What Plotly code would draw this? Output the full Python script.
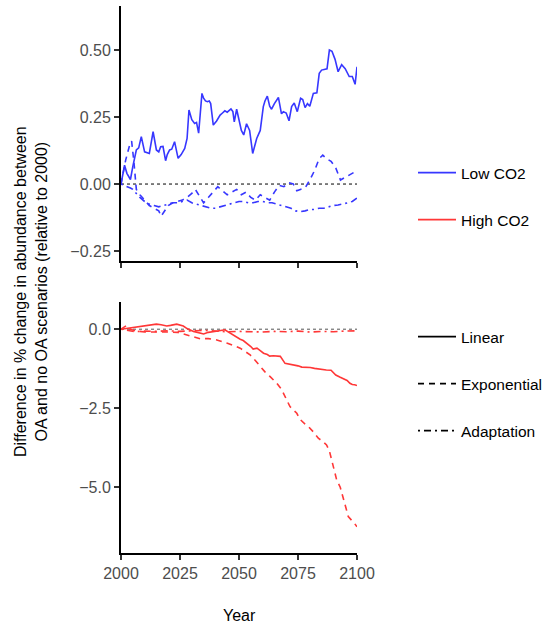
import plotly.graph_objects as go

# ---------------- data ----------------
low_lin_years = [2000, 2001.5, 2002.5, 2004, 2005, 2006.5, 2007.5, 2008.6, 2010, 2011,
                 2012, 2013.6, 2015, 2016, 2016.8, 2017.8, 2018.9, 2019.6, 2020.6, 2021.5,
                 2022.7, 2024.2, 2025.5, 2027, 2028, 2028.8, 2030, 2031.2, 2032, 2032.9,
                 2034.3, 2035, 2035.8, 2036.6, 2037.4, 2038, 2039.1, 2040.5, 2042, 2043,
                 2044, 2045, 2046.6, 2047.4, 2048, 2049, 2050.3, 2051, 2052, 2053.2,
                 2054.5, 2055.8, 2057.5, 2059, 2060.3, 2061, 2062, 2063, 2063.8, 2065,
                 2066.7, 2068, 2068.8, 2070, 2071.2, 2072.3, 2073.4, 2074.7, 2076.1, 2077,
                 2078, 2079, 2080, 2081.5, 2083, 2084, 2085, 2086.4, 2087.3, 2088.3,
                 2089.4, 2090.7, 2092, 2093.5, 2095, 2096.7, 2098, 2099.2, 2100]
low_lin_vals = [0, 0.07, 0.04, 0.017, 0.065, 0.127, 0.135, 0.177, 0.12, 0.118,
                0.114, 0.195, 0.127, 0.12, 0.139, 0.14, 0.087, 0.11, 0.127, 0.13,
                0.158, 0.096, 0.11, 0.133, 0.17, 0.276, 0.24, 0.226, 0.23, 0.19,
                0.338, 0.32, 0.31, 0.307, 0.31, 0.3, 0.22, 0.235, 0.257, 0.265,
                0.273, 0.268, 0.28, 0.27, 0.232, 0.279, 0.222, 0.2, 0.183, 0.225,
                0.2, 0.114, 0.17, 0.2, 0.289, 0.31, 0.328, 0.29, 0.279, 0.3,
                0.323, 0.262, 0.27, 0.265, 0.236, 0.289, 0.302, 0.27, 0.32, 0.315,
                0.285, 0.3, 0.29, 0.338, 0.34, 0.413, 0.425, 0.428, 0.43, 0.5,
                0.495, 0.465, 0.419, 0.445, 0.43, 0.401, 0.401, 0.372, 0.437]

low_exp_years = [2000, 2002, 2003.5, 2004.5, 2005.5, 2006.5, 2008, 2010, 2012, 2014,
                 2016, 2017, 2018.5, 2020, 2022, 2024, 2026, 2028, 2030, 2031.5,
                 2033, 2035, 2037, 2039, 2041, 2043, 2045, 2047, 2049, 2051,
                 2053, 2055, 2057, 2059, 2061, 2063, 2065, 2067, 2069, 2071,
                 2073, 2074.5, 2076, 2078, 2080, 2082, 2084, 2085.5, 2087, 2089,
                 2091, 2093, 2095, 2097, 2099, 2100]
low_exp_vals = [0, 0.09, 0.14, 0.16, 0.08, -0.02, -0.04, -0.06, -0.08, -0.09,
                -0.1, -0.12, -0.1, -0.08, -0.07, -0.065, -0.06, -0.05, -0.035, -0.02,
                -0.04, -0.07, -0.05, -0.03, -0.01, -0.025, -0.04, -0.03, -0.02, -0.04,
                -0.03, -0.05, -0.06, -0.04, -0.05, -0.06, -0.03, -0.005, -0.01, 0.005,
                0.0, -0.025, -0.02, -0.015, 0.015, 0.05, 0.095, 0.108, 0.095, 0.085,
                0.06, 0.015, 0.025, 0.035, 0.045, 0.056]

low_ada_years = [2000, 2001.5, 2003, 2004, 2005, 2006, 2008, 2010, 2012, 2014,
                 2016, 2018, 2020, 2022, 2024, 2026, 2028, 2030, 2032, 2034,
                 2036, 2038, 2040, 2042, 2044, 2046, 2048, 2050, 2052, 2054,
                 2056, 2058, 2060, 2062, 2064, 2066, 2068, 2070, 2072, 2074,
                 2076, 2078, 2080, 2082, 2084, 2086, 2088, 2090, 2092, 2094,
                 2096, 2098, 2100]
low_ada_vals = [0, -0.005, -0.01, -0.015, -0.02, -0.03, -0.05, -0.065, -0.075, -0.08,
                -0.085, -0.08, -0.075, -0.07, -0.07, -0.065, -0.06, -0.07, -0.075, -0.08,
                -0.085, -0.09, -0.09, -0.085, -0.08, -0.075, -0.07, -0.065, -0.065, -0.07,
                -0.07, -0.065, -0.065, -0.07, -0.07, -0.075, -0.078, -0.085, -0.09, -0.1,
                -0.103, -0.1, -0.095, -0.095, -0.09, -0.09, -0.085, -0.08, -0.078, -0.075,
                -0.07, -0.065, -0.052]

high_lin_years = [2000, 2002, 2005, 2008, 2011, 2013, 2015, 2017, 2019.4, 2021,
                  2023.6, 2026.4, 2028, 2030.7, 2033, 2035, 2037, 2039, 2041, 2044,
                  2046.2, 2048, 2050.5, 2051.8, 2053.3, 2055, 2056, 2057.6, 2059, 2060.4,
                  2062, 2063, 2064.6, 2066, 2067.5, 2069.5, 2071, 2073, 2075, 2076.6,
                  2078, 2080.2, 2082, 2084.4, 2087, 2089, 2091, 2092.9, 2094, 2095.8,
                  2097, 2098, 2099, 2100]
high_lin_vals = [0, 0.02, 0.05, 0.08, 0.1, 0.12, 0.16, 0.14, 0.1, 0.12,
                 0.16, 0.1, 0.02, -0.07, -0.12, -0.15, -0.1, -0.09, -0.06, -0.02,
                 -0.13, -0.22, -0.32, -0.36, -0.44, -0.55, -0.63, -0.6, -0.68, -0.76,
                 -0.8, -0.85, -0.84, -0.86, -0.86, -1.08, -1.1, -1.13, -1.16, -1.2,
                 -1.2, -1.21, -1.24, -1.27, -1.29, -1.3, -1.45, -1.52, -1.55, -1.62,
                 -1.71, -1.75, -1.76, -1.78]

high_exp_years = [2000, 2002.4, 2004, 2006, 2010, 2015, 2020, 2024, 2027.9, 2030,
                  2033.5, 2037, 2040.6, 2044.8, 2047, 2050.5, 2052.5, 2054.7, 2057, 2059,
                  2061, 2063.2, 2066, 2068, 2070.3, 2071.6, 2074.5, 2075.8, 2078, 2079.4,
                  2081.5, 2083.6, 2085.5, 2087.1, 2088.3, 2089.3, 2090.5, 2091.4, 2092.9, 2094.2,
                  2095.3, 2096.3, 2097.9, 2099, 2100]
high_exp_vals = [0, 0.12, 0.0, -0.05, -0.09, -0.08, -0.09, -0.1, -0.18, -0.22,
                 -0.3, -0.3, -0.34, -0.44, -0.5, -0.6, -0.7, -0.81, -1.0, -1.18,
                 -1.35, -1.5, -1.71, -1.9, -2.24, -2.45, -2.66, -2.85, -3.0, -3.08,
                 -3.25, -3.45, -3.55, -3.66, -3.85, -4.14, -4.45, -4.77, -5.0, -5.4,
                 -5.65, -5.93, -6.05, -6.15, -6.25]

high_ada_years = [2000, 2003, 2006, 2010, 2015, 2020, 2025, 2030, 2035, 2040,
                  2045, 2050, 2055, 2060, 2065, 2070, 2075, 2080, 2085, 2090,
                  2095, 2100]
high_ada_vals = [0, -0.05, -0.08, -0.06, -0.07, -0.05, -0.07, -0.05, -0.04, -0.06,
                 -0.08, -0.07, -0.08, -0.09, -0.07, -0.08, -0.06, -0.09, -0.07, -0.08,
                 -0.06, -0.05]

x_ticks = [2000, 2025, 2050, 2075, 2100]
top_ticks = [-0.25, 0.0, 0.25, 0.5]
bottom_ticks = [-5.0, -2.5, 0.0]
co2_names = ["Low CO2", "High CO2"]
shape_names = ["Linear", "Exponential", "Adaptation"]

# ---------------- styles ----------------
BLUE = "rgb(55,55,255)"
RED = "rgb(255,55,55)"
DASHES = {"Linear": "solid", "Exponential": "6px,5px", "Adaptation": "2px,4px,7px,4px"}
FONT = "Liberation Sans, Arial, sans-serif"
FS = 16
LEG_FS = 15.5
LW = 1.6

fig = go.Figure()

def add_series(xs, ys, color, kind, xa, ya):
    fig.add_trace(go.Scatter(x=xs, y=ys, mode="lines", xaxis=xa, yaxis=ya,
                             line=dict(color=color, width=LW, dash=DASHES[kind]),
                             showlegend=False, hoverinfo="skip"))

add_series(low_lin_years, low_lin_vals, BLUE, "Linear", "x", "y")
add_series(low_exp_years, low_exp_vals, BLUE, "Exponential", "x", "y")
add_series(low_ada_years, low_ada_vals, BLUE, "Adaptation", "x", "y")
add_series(high_lin_years, high_lin_vals, RED, "Linear", "x2", "y2")
add_series(high_exp_years, high_exp_vals, RED, "Exponential", "x2", "y2")
add_series(high_ada_years, high_ada_vals, RED, "Adaptation", "x2", "y2")

# legend entries (empty traces)
legend_ids = ["legend", "legend2", "legend3", "legend4", "legend5"]
for name, color, lg in zip(co2_names, [BLUE, RED], legend_ids[:2]):
    fig.add_trace(go.Scatter(x=[None], y=[None], mode="lines", name=name,
                             line=dict(color=color, width=LW), legend=lg))
for name, lg in zip(shape_names, legend_ids[2:]):
    fig.add_trace(go.Scatter(x=[None], y=[None], mode="lines", name=name,
                             line=dict(color="black", width=LW, dash=DASHES[name]), legend=lg))

# reference zero lines
fig.add_shape(type="line", xref="x domain", x0=0, x1=1, yref="y", y0=0, y1=0,
              line=dict(color="black", width=1, dash="3px,3px"), layer="below")
fig.add_shape(type="line", xref="x2 domain", x0=0, x1=1, yref="y2", y0=0, y1=0,
              line=dict(color="#555555", width=1, dash="3px,3px"), layer="below")

# ---------------- layout ----------------
W, H = 549, 625
ML, MR, MT, MB = 121, 192, 6, 72
PW, PH = W - ML - MR, H - MT - MB

def px_x(px):
    return (px - ML) / PW

def px_y(py):
    return (H - MB - py) / PH

axis_common = dict(showline=True, linecolor="black", linewidth=2, ticks="outside",
                   ticklen=5, tickwidth=1.5, tickcolor="#333333", showgrid=False,
                   zeroline=False, tickfont=dict(family=FONT, size=FS, color="#4d4d4d"))

fig.update_layout(
    width=W, height=H,
    margin=dict(l=ML, r=MR, t=MT, b=MB, autoexpand=False),
    paper_bgcolor="white", plot_bgcolor="white",
    font=dict(family=FONT, size=FS, color="black"),
    xaxis=dict(domain=[0, 1], anchor="y", range=[2000, 2100], tickvals=x_ticks,
               showticklabels=False, **axis_common),
    xaxis2=dict(domain=[0, 1], anchor="y2", range=[2000, 2100], tickvals=x_ticks,
                **axis_common),
    yaxis=dict(domain=[px_y(261), 1], anchor="x", range=[-0.287, 0.664],
               tickvals=top_ticks, tickformat=".2f", **axis_common),
    yaxis2=dict(domain=[0, px_y(302)], anchor="x2", range=[-7.08, 0.86],
                tickvals=bottom_ticks, tickformat=".1f", **axis_common),
)

legend_centers = [173, 220, 337, 384, 431]
for lg, cy in zip(legend_ids, legend_centers):
    fig.update_layout({lg: dict(x=px_x(413), y=px_y(cy), xanchor="left", yanchor="middle",
                                bgcolor="rgba(0,0,0,0)", borderwidth=0, itemwidth=38,
                                font=dict(family=FONT, size=LEG_FS, color="black"))})

fig.add_annotation(text="Difference in % change in abundance between<br>OA and no OA scenarios (relative to 2000)",
                   textangle=-90, xref="paper", yref="paper", x=px_x(31), y=px_y(292),
                   xanchor="center", yanchor="middle", showarrow=False,
                   font=dict(family=FONT, size=FS, color="black"))
fig.add_annotation(text="Year", xref="paper", yref="paper", x=px_x(239), y=px_y(615),
                   xanchor="center", yanchor="middle", showarrow=False,
                   font=dict(family=FONT, size=FS, color="black"))

fig.write_html("out.html", config={"displayModeBar": False},
               post_script="document.body.style.margin='0';document.body.style.padding='0';")
